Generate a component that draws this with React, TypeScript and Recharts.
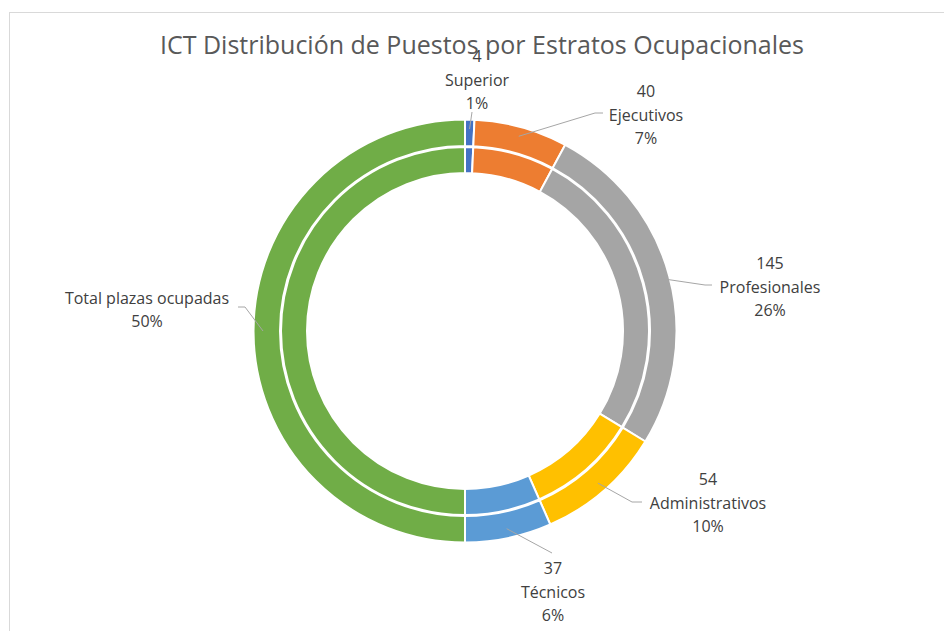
import { PieChart, Pie, Cell } from 'recharts';

const categories = ['Superior', 'Ejecutivos', 'Profesionales', 'Administrativos', 'Técnicos', 'Total plazas ocupadas'];
const puestos = [4, 40, 145, 54, 37, 280];
const porcentajes = ['1%', '7%', '26%', '10%', '6%', '50%'];
const showValue = [true, true, true, true, true, false];
const colors = ['#4472C4', '#ED7D31', '#A5A5A5', '#FFC000', '#5B9BD5', '#70AD47'];

// label block centre + leader line points, offsets from the pie centre
const labelSpots = [
  { text: [12, -251], elbow: [7, -219], end: [7, -219] },
  { text: [181, -216], elbow: [130, -218], end: [138, -218] },
  { text: [305, -44], elbow: [240, -46], end: [247, -46] },
  { text: [243, 172], elbow: [167, 171], end: [177, 171] },
  { text: [88, 261], elbow: [87, 222], end: [87, 222] },
  { text: [-318, -21], elbow: [-220, -24], end: [-227, -24] },
];

const chartData = categories.map((name, i) => ({ name, value: puestos[i] }));

const RAD = Math.PI / 180;
const FONT = '"Open Sans", sans-serif';

function renderLabel(props: any) {
  const { cx, cy, midAngle, index } = props;
  const spot = labelSpots[index];
  const sx = cx + 202 * Math.cos(-midAngle * RAD);
  const sy = cy + 202 * Math.sin(-midAngle * RAD);
  const lines = showValue[index]
    ? [String(puestos[index]), categories[index], porcentajes[index]]
    : [categories[index], porcentajes[index]];
  const lh = 23.5;
  const tx = cx + spot.text[0];
  const ty0 = cy + spot.text[1] - ((lines.length - 1) * lh) / 2;
  const pts = `${sx},${sy} ${cx + spot.elbow[0]},${cy + spot.elbow[1]} ${cx + spot.end[0]},${cy + spot.end[1]}`;
  return (
    <g key={`lbl-${index}`}>
      <polyline points={pts} fill="none" stroke="#A6A6A6" strokeWidth={1} />
      {lines.map((l, i) => (
        <text
          key={i}
          x={tx}
          y={ty0 + i * lh}
          dy="0.35em"
          textAnchor="middle"
          fill="#404040"
          fontSize={16}
          fontFamily={FONT}
        >
          {l}
        </text>
      ))}
    </g>
  );
}

export default function App() {
  return (
    <div style={{ position: 'absolute', left: 0, top: 0, width: 944, height: 631, background: '#fff', fontFamily: FONT }}>
      <div
        style={{
          position: 'absolute',
          left: 9,
          top: 12,
          width: 940,
          height: 625,
          borderTop: '1.5px solid #D9D9D9',
          borderLeft: '1.5px solid #D9D9D9',
        }}
      />
      <div
        style={{
          position: 'absolute',
          left: 0,
          width: 964,
          top: 26,
          textAlign: 'center',
          fontSize: 25,
          lineHeight: '36px',
          color: '#595959',
        }}
      >
        ICT Distribución de Puestos por Estratos Ocupacionales
      </div>
      <div style={{ position: 'absolute', left: 0, top: 0 }}>
        <PieChart width={944} height={631} margin={{ top: 0, right: 0, bottom: 0, left: 0 }}>
          <Pie
            data={chartData}
            dataKey="value"
            nameKey="name"
            cx={465}
            cy={331}
            innerRadius={158}
            outerRadius={184}
            startAngle={90}
            endAngle={-270}
            stroke="#fff"
            strokeWidth={2}
            label={false}
            labelLine={false}
            isAnimationActive={false}
          >
            {chartData.map((_, i) => (
              <Cell key={`in-${i}`} fill={colors[i]} />
            ))}
          </Pie>
          <Pie
            data={chartData}
            dataKey="value"
            nameKey="name"
            cx={465}
            cy={331}
            innerRadius={185}
            outerRadius={211.5}
            startAngle={90}
            endAngle={-270}
            stroke="#fff"
            strokeWidth={2}
            label={renderLabel}
            labelLine={false}
            isAnimationActive={false}
          >
            {chartData.map((_, i) => (
              <Cell key={`out-${i}`} fill={colors[i]} />
            ))}
          </Pie>
        </PieChart>
      </div>
    </div>
  );
}
